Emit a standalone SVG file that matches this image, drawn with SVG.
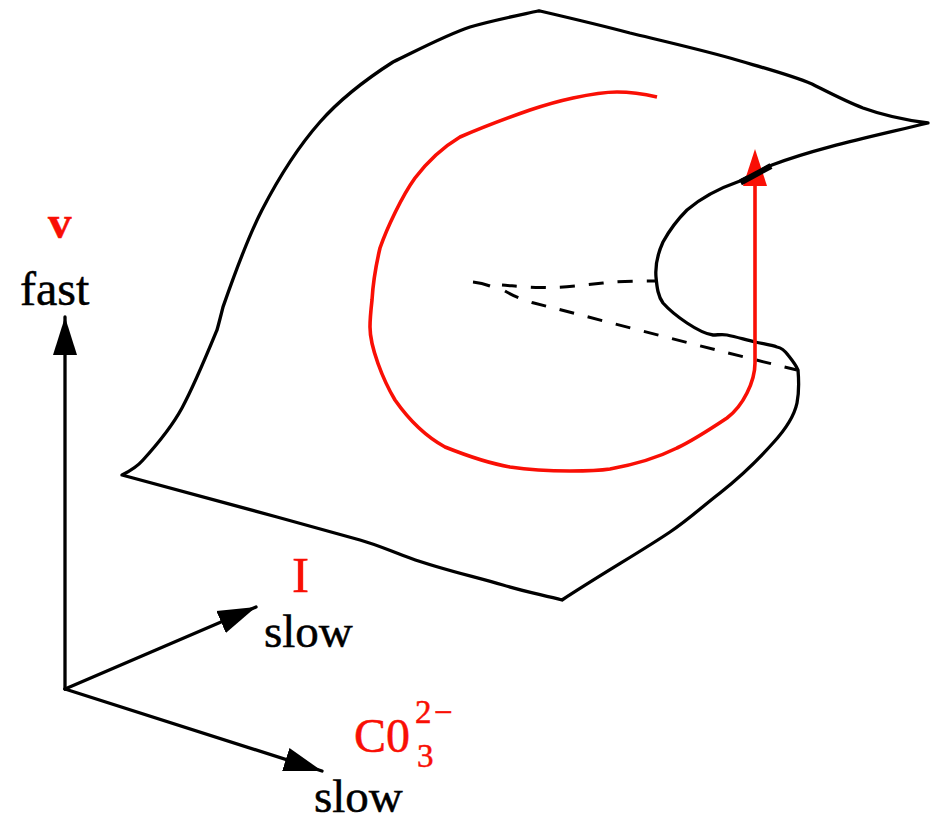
<svg xmlns="http://www.w3.org/2000/svg" width="930" height="823" viewBox="0 0 930 823">
<style>
.c{fill:none;stroke:#000;stroke-width:3.300;stroke-linejoin:round;stroke-linecap:round}
.d{stroke-dasharray:15 14;stroke-linecap:butt;stroke-width:3}
.s{stroke-linecap:butt;stroke-width:3}
.r{fill:none;stroke:#f90f05;stroke-width:3.600;stroke-linejoin:round}
text{font-family:"Liberation Serif","Times New Roman",serif;font-size:47px;fill:#000;stroke:#000;stroke-width:.5px}
.t{fill:#f90f05;stroke:#f90f05}
</style>
<defs>
<marker id="ah" markerUnits="userSpaceOnUse" markerWidth="40" markerHeight="26" refX="38" refY="13" orient="auto"><path d="M0 1L38 13L0 25Z" fill="#000"/></marker>
</defs>
<rect width="930" height="823" fill="#fff"/>
<g id="connectors">
<path class="c" d="M65 689V317" marker-end="url(#ah)"/>
<path class="c" d="M65 689L256 607" marker-end="url(#ah)"/>
<path class="c" d="M65 689L322 771" marker-end="url(#ah)"/>
</g>
<g id="surface">
<path class="c" d="M122 475C130 471 137 467 143 460C153 449 170 430 182 408C194 386 210 347 217 330C219 323 221 315 223 307C230 287 246 241 262 210C278 179 298 147 320 122C342 97 368 78 393 62C418 50 446 35 470 27C490 21 515 16 538 11L540 11C570 18 600 25 630 33C663 41 698 49 730 58C760 67 788 74 812 84C830 93 845 101 863 108C885 116 905 120 928 123C875 136 820 147 772 165C760 170 752 175 740 181C720 188 702 197 687 210C677 220 669 231 663 242C658 253 655 265 656 277C657 288 658 296 663 303C671 312 678 317 687 323C696 329 705 334 713 335C718 335 722 334 727 335C737 337 746 340 755 342C764 344 771 345 777 347C782 348 785 351 788 355C792 360 796 365 798 370C799 382 799 393 797 403C794 417 785 430 773 443C757 461 740 477 720 493C703 506 688 520 670 532C645 549 600 575 562 600C543 595 522 591 503 585C472 576 440 569 410 558C393 552 378 545 360 540C332 532 305 525 277 517Z"/>
<path class="c s" d="M473 282Q482 283 490 286"/>
<path class="c d" d="M502 285C515 286 530 288 545 287.500C560 288 585 285 603 283C620 281 640 281 655 281"/>
<path class="c d" d="M505 291C510 294 520 299 532 302.500C620 325 710 349 797 370"/>
</g>
<g id="trajectory">
<path class="r" d="M657 97C644 94 631 92 617 92C602 92 587 95 573 98C559 101 545 105 530 110C507 118 483 127 460 137C445 146 428 161 415 178C402 196 387 228 380 248C376 265 373 283 372 300C371 309 370 318 370 327C370 347 383 380 395 400C409 420 425 436 445 447C465 455 487 463 510 467C530 470 550 471 570 471C583 471 597 471 610 469C632 465 655 459 677 448C694 440 712 428 727 418C735 412 742 403 747 393C752 383 755 375 755 363V180"/>
<path d="M755 149L767 186H743Z" fill="#f90f05"/>
<path d="M740.500 182.500L771 166" fill="none" stroke="#000" stroke-width="6"/>
</g>
<g id="label-v"><text class="t" x="48" y="238" font-weight="700">v</text></g>
<g id="label-fast"><text x="20" y="305" style="font-size:48px">fast</text></g>
<g id="label-I"><text class="t" x="292" y="592" style="font-size:51px">I</text></g>
<g id="label-slow-1"><text x="264" y="647">slow</text></g>
<g id="label-co3"><text class="t" x="354" y="752" style="font-size:48px">C0</text><text class="t" x="415" y="723" style="font-size:33px">2</text><text class="t" x="434" y="723" style="font-size:33px">−</text><text class="t" x="417" y="767" style="font-size:33px">3</text></g>
<g id="label-slow-2"><text x="314" y="812">slow</text></g>
</svg>
